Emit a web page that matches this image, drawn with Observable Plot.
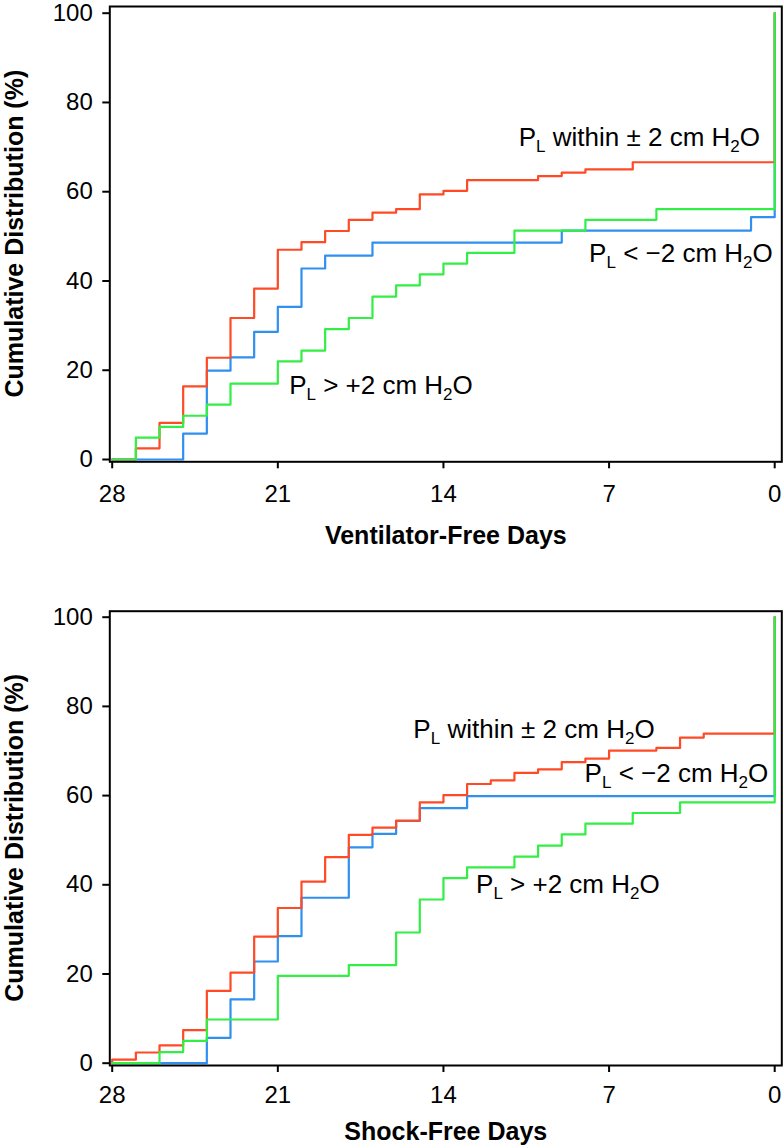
<!DOCTYPE html>
<html><head><meta charset="utf-8">
<script src="https://cdn.jsdelivr.net/npm/d3@7"></script>
<script src="https://cdn.jsdelivr.net/npm/@observablehq/plot@0.6"></script>
<style>
body{margin:0;background:#fff;}
#wrap{position:relative;width:783px;height:1147px;font-family:"Liberation Sans",Arial,Helvetica,sans-serif;background:#fff;}
#wrap svg{position:absolute;left:0;}
</style></head><body><div id="wrap"></div>
<script>
// Axis ticks
const xTicks = [28, 21, 14, 7, 0];
const yTicks = [0, 20, 40, 60, 80, 100];

// Series names / colours
const seriesKeys = ["below", "within", "above"];
const seriesColors = {within: "#ff4a26", below: "#2f90f0", above: "#33ee44"};

// Ventilator-free days: step days (descending) and cumulative %
const ventWithinDays = [28, 27, 26, 25, 24, 23, 22, 21, 20, 19, 18, 17, 16, 15, 14, 13, 10, 9, 8, 6, 0];
const ventWithinPct  = [0, 2.5, 8.2, 16.4, 22.8, 31.7, 38.3, 47.0, 48.7, 51.2, 53.7, 55.3, 56.1, 59.4, 60.2, 62.6, 63.5, 64.3, 65.0, 66.6, 100];
const ventBelowDays  = [28, 25, 24, 23, 22, 21, 20, 19, 17, 9, 1, 0];
const ventBelowPct   = [0, 5.8, 19.9, 22.9, 28.6, 34.2, 42.8, 45.7, 48.6, 51.3, 54.3, 100];
const ventAboveDays  = [28, 27, 26, 25, 24, 23, 21, 20, 19, 18, 17, 16, 15, 14, 13, 11, 8, 5, 0];
const ventAbovePct   = [0, 4.9, 7.3, 9.8, 12.3, 17.0, 22.0, 24.4, 29.2, 31.7, 36.5, 39.0, 41.5, 43.9, 46.3, 51.3, 53.7, 56.1, 100];

// Shock-free days
const shockWithinDays = [28, 28, 27, 26, 25, 24, 23, 22, 21, 20, 19, 18, 17, 16, 15, 14, 13, 12, 11, 10, 9, 8, 7, 5, 4, 3, 0];
const shockWithinPct  = [0, 0.8, 2.4, 4.0, 7.4, 16.2, 20.3, 28.4, 34.8, 40.7, 46.2, 51.2, 52.8, 54.4, 58.5, 60.1, 62.6, 63.4, 65.1, 65.9, 67.5, 68.3, 70.1, 70.7, 73.0, 73.9, 100];
const shockBelowDays  = [28, 24, 23, 22, 21, 20, 18, 17, 16, 15, 13, 0];
const shockBelowPct   = [0, 5.7, 14.3, 22.8, 28.5, 37.1, 48.4, 51.4, 54.3, 57.2, 59.9, 100];
const shockAboveDays  = [28, 26, 25, 24, 21, 18, 16, 15, 14, 13, 11, 10, 9, 8, 6, 4, 0];
const shockAbovePct   = [0, 2.5, 5.0, 9.8, 19.6, 22.0, 29.3, 36.7, 41.5, 43.9, 46.3, 48.8, 51.3, 53.7, 56.1, 58.5, 100];

// Text
const yLabel = "Cumulative Distribution (%)";
const ventXLabel = "Ventilator-Free Days";
const shockXLabel = "Shock-Free Days";
const labelParts = {
  within: ["P", "L", " within \u00b1 2 cm H", "2", "O"],
  below:  ["P", "L", " < \u22122 cm H", "2", "O"],
  above:  ["P", "L", " > +2 cm H", "2", "O"]
};

function rows(days, pct) { return days.map((d, i) => ({day: d, pct: pct[i]})); }

const FONT = '"Liberation Sans", Arial, Helvetica, sans-serif';

function panel(cfg) {
  const lines = seriesKeys.map(k => Plot.line(rows(cfg.series[k][0], cfg.series[k][1]), {
    x: "day", y: "pct", curve: "step-after", stroke: seriesColors[k], strokeWidth: 2.2
  }));
  const plot = Plot.plot({
    width: 783,
    height: cfg.height,
    marginTop: cfg.frameTop,
    marginBottom: cfg.height - cfg.frameBottom,
    marginLeft: 109.3,
    marginRight: 1.7,
    x: {domain: [28, 0], range: [111.7, 774.2]},
    y: {domain: [0, 100], range: [cfg.y0, cfg.y100]},
    style: {fontFamily: FONT, fontSize: "24px", color: "black", background: "white", overflow: "visible"},
    marks: [
      ...lines,
      Plot.frame({stroke: "black", strokeWidth: 2}),
      Plot.axisX({ticks: xTicks, tickSize: 7, tickPadding: cfg.xPad, label: null, strokeWidth: 2, fontSize: 24}),
      Plot.axisY({ticks: yTicks, tickSize: 7, tickPadding: 10, label: null, strokeWidth: 2, fontSize: 24}),
      Plot.text([cfg.xLabel], {frameAnchor: "bottom", dy: cfg.xLabelDy, text: d => d, fontWeight: "bold", fontSize: 25, lineAnchor: "middle", fill: "black"})
    ]
  });
  const sx = plot.scale("x"), sy = plot.scale("y");
  const svg = d3.select(plot.tagName.toLowerCase() === "svg" ? plot : plot.querySelector("svg"));
  // rotated y-axis title, centred on the frame
  const cy = (cfg.frameTop + cfg.frameBottom) / 2, cx = 14;
  svg.append("text")
    .attr("transform", `translate(${cx},${cy}) rotate(-90)`)
    .attr("text-anchor", "middle").attr("dy", "0.36em")
    .attr("font-family", FONT).attr("font-size", 25).attr("font-weight", "bold").attr("fill", "black")
    .text(yLabel);
  // series labels with subscripts, placed through the plot's scales
  for (const lab of cfg.labels) {
    const parts = labelParts[lab.key];
    const t = svg.append("text")
      .attr("x", sx.apply(lab.day)).attr("y", sy.apply(lab.pct))
      .attr("text-anchor", lab.anchor)
      .attr("font-family", FONT).attr("font-size", 26).attr("fill", "black");
    t.append("tspan").text(parts[0]);
    t.append("tspan").attr("dy", 6).attr("font-size", 17).text(parts[1]);
    t.append("tspan").attr("dy", -6).text(parts[2]);
    t.append("tspan").attr("dy", 6).attr("font-size", 17).text(parts[3]);
    t.append("tspan").attr("dy", -6).text(parts[4]);
  }
  plot.style.top = cfg.top + "px";
  return plot;
}

const wrap = document.getElementById("wrap");
wrap.appendChild(panel({
  top: 0, height: 560, frameTop: 6, frameBottom: 461.3, y0: 459, y100: 12.7, xPad: 16,
  xLabel: ventXLabel, xLabelDy: 74,
  series: {within: [ventWithinDays, ventWithinPct], below: [ventBelowDays, ventBelowPct], above: [ventAboveDays, ventAbovePct]},
  labels: [
    {key: "within", day: 0.6, pct: 70.1, anchor: "end"},
    {key: "below", day: 0.06, pct: 44.2, anchor: "end"},
    {key: "above", day: 20.5, pct: 14.6, anchor: "start"}
  ]
}));
wrap.appendChild(panel({
  top: 560, height: 587, frameTop: 50.7, frameBottom: 505, y0: 502.7, y100: 56.7, xPad: 13,
  xLabel: shockXLabel, xLabelDy: 66.5,
  series: {within: [shockWithinDays, shockWithinPct], below: [shockBelowDays, shockBelowPct], above: [shockAboveDays, shockAbovePct]},
  labels: [
    {key: "within", day: 15.25, pct: 72.7, anchor: "start"},
    {key: "below", day: 0.25, pct: 63.0, anchor: "end"},
    {key: "above", day: 12.6, pct: 38.0, anchor: "start"}
  ]
}));
</script></body></html>
